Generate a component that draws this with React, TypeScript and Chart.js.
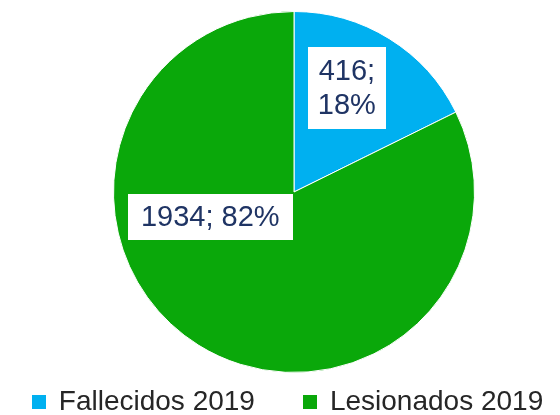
import React, { useEffect, useRef } from "react";
import { Chart, registerables } from "chart.js";

Chart.register(...registerables);

const categories = ["Fallecidos 2019", "Lesionados 2019"];
const values = [416, 1934];
const percents = ["18%", "82%"];
const colors = ["#00B0F0", "#0AA80A"];

const labelFont = "'Liberation Sans', Arial, sans-serif";

const labelPlugin = {
  id: "boxLabels",
  afterDatasetsDraw(chart: any) {
    const meta = chart.getDatasetMeta(0);
    const ctx = chart.ctx;
    const arc0 = meta.data[0];
    if (!arc0) return;
    const cx = arc0.x;
    const cy = arc0.y;
    const r = arc0.outerRadius;
    const specs = [
      { lines: [`${values[0]};`, percents[0]], fx: 0.293, fy: -0.575, px: 10, py: 7 },
      { lines: [`${values[1]}; ${percents[1]}`], fx: -0.464, fy: 0.138, px: 13, py: 6 },
    ];
    ctx.save();
    ctx.font = `29px ${labelFont}`;
    ctx.textAlign = "center";
    ctx.textBaseline = "middle";
    const lh = 34;
    specs.forEach((s) => {
      const x = cx + r * s.fx;
      const y = cy + r * s.fy;
      const w = Math.max(...s.lines.map((l) => ctx.measureText(l).width)) + s.px * 2;
      const h = s.lines.length * lh + s.py * 2;
      ctx.fillStyle = "#FFFFFF";
      ctx.fillRect(Math.round(x - w / 2), Math.round(y - h / 2), Math.round(w), Math.round(h));
      ctx.fillStyle = "#1F3464";
      s.lines.forEach((l, i) => {
        ctx.fillText(l, x, y - h / 2 + s.py + lh * i + lh / 2 + 1);
      });
    });

    // legend
    ctx.font = `28px ${labelFont}`;
    ctx.textAlign = "left";
    ctx.textBaseline = "middle";
    const box = 14;
    const gapText = 13;
    const gapItem = 48;
    const widths = categories.map((c) => ctx.measureText(c).width);
    const total = widths.reduce((a, w) => a + box + gapText + w, 0) + gapItem * (categories.length - 1);
    let lx = chart.width / 2 + 7.5 - total / 2;
    const ly = 402;
    categories.forEach((c, i) => {
      ctx.fillStyle = colors[i];
      ctx.fillRect(Math.round(lx), ly - box / 2, box, box);
      ctx.fillStyle = "#262626";
      ctx.fillText(c, lx + box + gapText, ly);
      lx += box + gapText + widths[i] + gapItem;
    });
    ctx.restore();
  },
};

export default function App() {
  const ref = useRef<HTMLCanvasElement | null>(null);
  useEffect(() => {
    document.body.style.margin = "0";
    if (!ref.current) return;
    const chart = new Chart(ref.current, {
      type: "pie",
      data: {
        labels: categories,
        datasets: [
          {
            data: values,
            backgroundColor: colors,
            borderColor: "#FFFFFF",
            borderWidth: 1,
          },
        ],
      },
      options: {
        animation: false,
        responsive: false,
        maintainAspectRatio: false,
        layout: { padding: { top: 11, left: 28, right: 0, bottom: 42 } },
        plugins: {
          tooltip: { enabled: false },
          legend: { display: false },
        },
      },
      plugins: [labelPlugin],
    });
    return () => chart.destroy();
  }, []);
  return (
    <div style={{ position: "absolute", left: 0, top: 0, width: 560, height: 415 }}>
      <canvas ref={ref} width={560} height={415} style={{ width: 560, height: 415 }} />
    </div>
  );
}
